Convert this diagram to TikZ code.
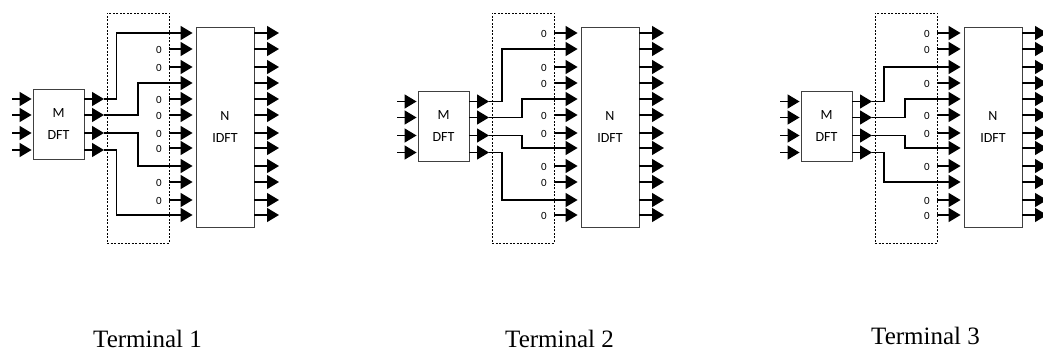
\documentclass[tikz,border=0pt]{standalone}
\usepackage{fontspec}
\setmainfont{Liberation Serif}
\newfontfamily\calfont{Carlito}
\usetikzlibrary{arrows.meta}
\tikzset{
  blk/.style={draw=black!75, line width=0.9pt, fill=white, inner sep=0pt},
  sig/.style={line width=1.4pt, -{Triangle[length=12pt,width=14pt]}},
  frame/.style={draw, line width=0.8pt, dash pattern=on 2pt off 1.5pt, inner sep=0pt},
  zero/.style={font=\calfont\fontsize{11}{12}\selectfont, inner sep=0pt, anchor=east},
  lbl/.style={font=\calfont\fontsize{14}{22}\selectfont, align=center},
  term/.style={font=\fontsize{25}{30}\selectfont, anchor=base west, inner sep=0pt}
}
\newcommand\drawpanel[5]{%
  \begin{scope}[xshift=#2pt]
    \node[frame, minimum width=62pt, minimum height=230pt] (#1F) at (138,128) {};
    \node[blk, lbl, minimum width=51pt, minimum height=70pt] (#1M) at (58.5,{124+#3}) {M\\DFT};
    \node[blk, lbl, minimum width=58pt, minimum height=200pt] (#1N) at (225,127) {N\\IDFT};
    \foreach \i/\yy in {1/10,2/26,3/44,4/61} {
      \coordinate (#1a\i) at (12,{89+#3+\yy});
      \coordinate (#1c\i) at (#1M.east |- #1a\i);
      \coordinate (#1d\i) at (104,{89+#3+\yy});
      \draw[sig] (#1a\i) -- ([xshift=-1pt]#1M.west |- #1a\i);
      \draw[sig] (#1c\i) -- (#1d\i);
    }
    \foreach \k/\yy in {1/33,2/49,3/67,4/83,5/99,6/115,7/133,8/148,9/166,10/182,11/200,12/215} {
      \coordinate (#1e\k) at (169,\yy);
      \coordinate (#1f\k) at ([xshift=-3pt]#1N.west |- #1e\k);
      \coordinate (#1g\k) at (#1N.east |- #1e\k);
      \coordinate (#1h\k) at (279,\yy);
      \draw[sig] (#1g\k) -- (#1h\k);
    }
    \foreach \k in {#5} {
      \draw[sig] (#1e\k) -- (#1f\k);
      \node[zero] (#1z\k) at ([xshift=-7pt,yshift=-0.5pt]#1e\k) {0};
    }
    \foreach \o/\k/\rx in {#4} {
      \coordinate (#1r\o) at (\rx,0);
      \draw[sig] (#1d\o) -- (#1d\o -| #1r\o) |- (#1f\k);
    }
  \end{scope}
}
\begin{document}
\begin{tikzpicture}[x=1pt,y=-1pt]
  \useasboundingbox (0,0) rectangle (1043,352);
  \drawpanel{P}{0}{0}{1/1/116.5,2/4/138,3/9/138,4/12/116.5}{2,3,5,6,7,8,10,11}
  \drawpanel{Q}{385}{2.5}{1/2/117,2/5/137,3/8/137,4/11/117}{1,3,4,6,7,9,10,12}
  \drawpanel{R}{768}{2.5}{1/3/116,2/5/137,3/8/137,4/10/116}{1,2,4,6,7,9,11,12}
  \node[term] (t1) at (93,347) {Terminal 1};
  \node[term] (t2) at (505,347) {Terminal 2};
  \node[term] (t3) at (871,344) {Terminal 3};
\end{tikzpicture}
\end{document}
